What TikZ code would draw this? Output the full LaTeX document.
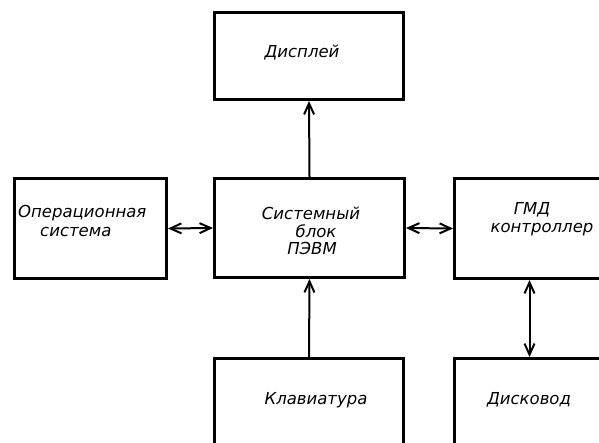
\documentclass[tikz,border=0pt]{standalone}
\usepackage{fontspec}
\setmainfont{DejaVu Sans}
\usetikzlibrary{arrows.meta}
\begin{document}
\begin{tikzpicture}[x=1pt,y=-1pt,
  blk/.style={draw, line width=3pt, rectangle, anchor=north west, inner sep=0pt},
  lbl/.style={font=\fontsize{16.5}{18}\selectfont\itshape, inner sep=0pt, align=center},
  tip/.style={Straight Barb[length=11pt,width=10pt,line width=2pt]},
  arr/.style={line width=2pt, -{Straight Barb[length=11pt,width=10pt,line width=2pt]}},
  darr/.style={line width=2pt, {Straight Barb[length=11pt,width=10pt,line width=2pt]}-{Straight Barb[length=11pt,width=10pt,line width=2pt]}}]
\useasboundingbox (0,0) rectangle (599,442);
\clip (0,0) rectangle (599,442);
\fill[white] (0,0) rectangle (599,442);
\node[blk, minimum width=189pt, minimum height=87pt] (disp) at (213,11) {};
\node[blk, minimum width=152pt, minimum height=100pt] (os) at (13,177) {};
\node[blk, minimum width=190pt, minimum height=99pt] (sys) at (213,177) {};
\node[blk, minimum width=150pt, minimum height=100pt] (gmd) at (453,177) {};
\node[blk, minimum width=189pt, minimum height=95pt] (kbd) at (213,357) {};
\node[blk, minimum width=150pt, minimum height=95pt] (disk) at (453,357) {};

\node[lbl] (tdisp) at (302,53) {Дисплей};
\node[lbl, anchor=west] (tos1) at (18,213) {Операционная};
\node[lbl, anchor=west] (tos2) at (40,232) {система};
\node[lbl] (tsys1) at (311,213) {Системный};
\node[lbl] (tsys2) at (316,231) {блок};
\node[lbl] (tsys3) at (312,248) {ПЭВМ};
\node[lbl] (tgmd1) at (532,210) {ГМД};
\node[lbl] (tgmd2) at (542,230) {контроллер};
\node[lbl] (tkbd) at (316,400) {Клавиатура};
\node[lbl] (tdisk) at (529,400) {Дисковод};

\draw[arr] (sys.north) -- (disp.south);
\draw[arr] (kbd.north) -- (sys.south);
\draw[darr] (os.east) -- (sys.west);
\draw[darr] (sys.east) -- (gmd.west);
\draw[darr] (gmd.south) -- (disk.north);
\end{tikzpicture}
\end{document}
